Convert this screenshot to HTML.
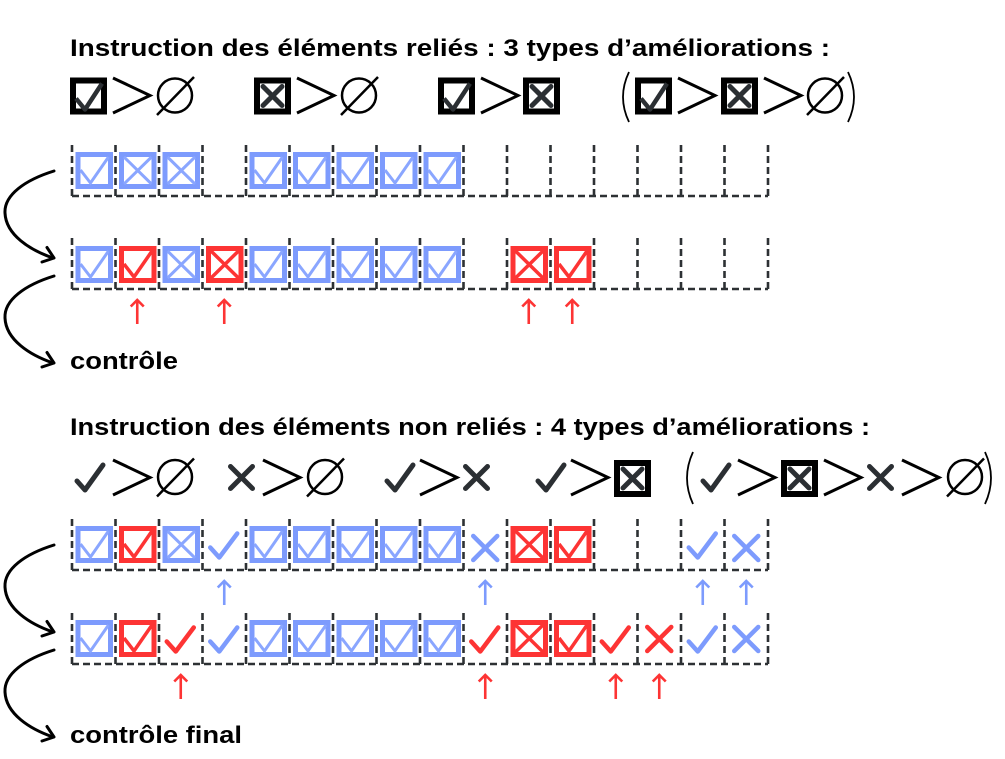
<!DOCTYPE html>
<html><head><meta charset="utf-8">
<style>
html,body{margin:0;padding:0;background:#fff;}
svg{display:block;}
text{font-family:"Liberation Sans",sans-serif;font-weight:bold;fill:#000;}
</style></head>
<body>
<svg width="1005" height="759" viewBox="0 0 1005 759" xmlns="http://www.w3.org/2000/svg">
<defs>
  <g id="bc"><rect x="2.5" y="2.5" width="32.5" height="32" fill="#fff" stroke="#7d9bfd" stroke-width="5"/><polyline points="5,18 15,31 33,5" fill="none" stroke="#8aa6ff" stroke-width="3"/></g>
  <g id="bx"><rect x="2.5" y="2.5" width="32.5" height="32" fill="#fff" stroke="#7d9bfd" stroke-width="5"/><path d="M5,5L32.5,32M32.5,5L5,32" fill="none" stroke="#8aa6ff" stroke-width="3"/></g>
  <g id="rc"><rect x="2.5" y="2.5" width="32.5" height="32" fill="#fff" stroke="#fd3434" stroke-width="5"/><polyline points="5,18 15,31 33,5" fill="none" stroke="#fd3434" stroke-width="3.5"/></g>
  <g id="rx"><rect x="2.5" y="2.5" width="32.5" height="32" fill="#fff" stroke="#fd3434" stroke-width="5"/><path d="M5,5L32.5,32M32.5,5L5,32" fill="none" stroke="#fd3434" stroke-width="3.5"/></g>
  <polyline id="pc" points="-14,2.5 -5,12.5 13,-11.5" fill="none" stroke-width="4.5" stroke-linecap="round" stroke-linejoin="round"/>
  <path id="px" d="M-12,-12L12,12M12,-12L-12,12" fill="none" stroke-width="4.5" stroke-linecap="round"/>
  <path id="ua" d="M0,0V24M-6.5,6.5L0,0L6.5,6.5" fill="none" stroke-width="2.6"/>
  <g id="grid" fill="none" stroke="#2d3134" stroke-width="2.6" stroke-dasharray="7 4">
    <path d="M72,0V51M115.5,0V51M159,0V51M202.5,0V51M246,0V51M289.5,0V51M333,0V51M376.5,0V51M420,0V51M463.5,0V51M507,0V51M550.5,0V51M594,0V51M637.5,0V51M681,0V51M724.5,0V51M768,0V51"/>
    <path d="M72,51H768"/>
  </g>
  <g id="carrow" fill="none" stroke="#000" stroke-width="3" stroke-linecap="round" stroke-linejoin="round">
    <path d="M54,171 C25,180 4,195 5,213 C6,235 30,250 53,258"/>
    <path d="M47,247.5 L54,258 L42,262"/>
  </g>
  <g id="kbc"><rect x="3" y="3" width="31" height="31" fill="#fff" stroke="#000" stroke-width="6"/><polyline points="6,21 15,32 32,6" fill="none" stroke="#2b2f33" stroke-width="4.5" stroke-linejoin="round"/></g>
  <g id="kbx"><rect x="3" y="3" width="31" height="31" fill="#fff" stroke="#000" stroke-width="6"/><path d="M9,9L28,28M28,9L9,28" fill="none" stroke="#2b2f33" stroke-width="5" stroke-linecap="round"/></g>
  <path id="gt" d="M0,0L37,17.5L0,35" fill="none" stroke="#000" stroke-width="3"/>
  <g id="empty" fill="none" stroke="#000" stroke-width="2.5"><circle cx="0" cy="0" r="17"/><path d="M-18,19.5L19,-18.5"/></g>
  <polyline id="dc" points="2,18 10,27 28,2" fill="none" stroke="#2b2f33" stroke-width="5" stroke-linecap="round" stroke-linejoin="round"/>
  <path id="dx" d="M-11,-11L11,11M11,-11L-11,11" fill="none" stroke="#2b2f33" stroke-width="5" stroke-linecap="round"/>
</defs>

<!-- Titles -->
<text x="70" y="56" font-size="24" textLength="760" lengthAdjust="spacingAndGlyphs">Instruction des éléments reliés : 3 types d’améliorations :</text>
<text x="70" y="435" font-size="24" textLength="800" lengthAdjust="spacingAndGlyphs">Instruction des éléments non reliés : 4 types d’améliorations :</text>
<text x="70" y="369" font-size="24" textLength="108" lengthAdjust="spacingAndGlyphs">contrôle</text>
<text x="70" y="743" font-size="24" textLength="172" lengthAdjust="spacingAndGlyphs">contrôle final</text>

<!-- Symbols line 1 -->
<use href="#kbc" x="70" y="77.5"/>
<use href="#gt" x="113" y="78"/>
<use href="#empty" x="175" y="95.5"/>
<use href="#kbx" x="254" y="77.5"/>
<use href="#gt" x="297" y="78"/>
<use href="#empty" x="359" y="95.5"/>
<use href="#kbc" x="438" y="77.5"/>
<use href="#gt" x="481" y="78"/>
<use href="#kbx" x="523" y="77.5"/>
<path d="M629,72 Q617,97 629,122" fill="none" stroke="#000" stroke-width="1.8"/>
<use href="#kbc" x="635" y="77.5"/>
<use href="#gt" x="678" y="78"/>
<use href="#kbx" x="721" y="77.5"/>
<use href="#gt" x="764" y="78"/>
<use href="#empty" x="825" y="95.5"/>
<path d="M848,72 Q860,97 848,122" fill="none" stroke="#000" stroke-width="1.8"/>

<!-- Symbols line 2 -->
<use href="#dc" x="75" y="463"/>
<use href="#gt" x="113" y="460"/>
<use href="#empty" x="175" y="477"/>
<use href="#dx" x="241.5" y="477.5"/>
<use href="#gt" x="263" y="460"/>
<use href="#empty" x="325" y="477"/>
<use href="#dc" x="385" y="463"/>
<use href="#gt" x="420" y="460"/>
<use href="#dx" x="476.5" y="477.5"/>
<use href="#dc" x="536" y="463"/>
<use href="#gt" x="571" y="460"/>
<use href="#kbx" x="614" y="460"/>
<path d="M693,452 Q681,478 693,504" fill="none" stroke="#000" stroke-width="1.8"/>
<use href="#dc" x="701" y="463"/>
<use href="#gt" x="738" y="460"/>
<use href="#kbx" x="781" y="460"/>
<use href="#gt" x="824" y="460"/>
<use href="#dx" x="880.5" y="477.5"/>
<use href="#gt" x="902" y="460"/>
<use href="#empty" x="965" y="477"/>
<path d="M985,452 Q997,478 985,504" fill="none" stroke="#000" stroke-width="1.8"/>

<!-- Grids -->
<use href="#grid" x="0" y="145"/>
<use href="#grid" x="0" y="238"/>
<use href="#grid" x="0" y="519"/>
<use href="#grid" x="0" y="613"/>

<!-- Row A -->
<use href="#bc" x="75.5" y="152"/>
<use href="#bx" x="119" y="152"/>
<use href="#bx" x="162.5" y="152"/>
<use href="#bc" x="249.5" y="152"/>
<use href="#bc" x="293" y="152"/>
<use href="#bc" x="336.5" y="152"/>
<use href="#bc" x="380" y="152"/>
<use href="#bc" x="423.5" y="152"/>

<!-- Row B -->
<use href="#bc" x="75.5" y="246"/>
<use href="#rc" x="119" y="246"/>
<use href="#bx" x="162.5" y="246"/>
<use href="#rx" x="206" y="246"/>
<use href="#bc" x="249.5" y="246"/>
<use href="#bc" x="293" y="246"/>
<use href="#bc" x="336.5" y="246"/>
<use href="#bc" x="380" y="246"/>
<use href="#bc" x="423.5" y="246"/>
<use href="#rx" x="510.5" y="246"/>
<use href="#rc" x="554" y="246"/>

<!-- Row B arrows -->
<use href="#ua" x="137.25" y="300" stroke="#fd3434"/>
<use href="#ua" x="224.25" y="300" stroke="#fd3434"/>
<use href="#ua" x="528.75" y="300" stroke="#fd3434"/>
<use href="#ua" x="572.25" y="300" stroke="#fd3434"/>

<!-- Row C -->
<use href="#bc" x="75.5" y="526"/>
<use href="#rc" x="119" y="526"/>
<use href="#bx" x="162.5" y="526"/>
<use href="#pc" x="224.25" y="545" stroke="#7d9bfd"/>
<use href="#bc" x="249.5" y="526"/>
<use href="#bc" x="293" y="526"/>
<use href="#bc" x="336.5" y="526"/>
<use href="#bc" x="380" y="526"/>
<use href="#bc" x="423.5" y="526"/>
<use href="#px" x="485.25" y="548" stroke="#7d9bfd"/>
<use href="#rx" x="510.5" y="526"/>
<use href="#rc" x="554" y="526"/>
<use href="#pc" x="702.75" y="545" stroke="#7d9bfd"/>
<use href="#px" x="746.25" y="548" stroke="#7d9bfd"/>

<!-- Row C arrows -->
<use href="#ua" x="224.25" y="581" stroke="#7d9bfd"/>
<use href="#ua" x="485.25" y="581" stroke="#7d9bfd"/>
<use href="#ua" x="702.75" y="581" stroke="#7d9bfd"/>
<use href="#ua" x="746.25" y="581" stroke="#7d9bfd"/>

<!-- Row D -->
<use href="#bc" x="75.5" y="620"/>
<use href="#rc" x="119" y="620"/>
<use href="#pc" x="180.75" y="639" stroke="#fd3434"/>
<use href="#pc" x="224.25" y="639" stroke="#7d9bfd"/>
<use href="#bc" x="249.5" y="620"/>
<use href="#bc" x="293" y="620"/>
<use href="#bc" x="336.5" y="620"/>
<use href="#bc" x="380" y="620"/>
<use href="#bc" x="423.5" y="620"/>
<use href="#pc" x="485.25" y="639" stroke="#fd3434"/>
<use href="#rx" x="510.5" y="620"/>
<use href="#rc" x="554" y="620"/>
<use href="#pc" x="615.75" y="639" stroke="#fd3434"/>
<use href="#px" x="659.25" y="639" stroke="#fd3434"/>
<use href="#pc" x="702.75" y="639" stroke="#7d9bfd"/>
<use href="#px" x="746.25" y="639" stroke="#7d9bfd"/>

<!-- Row D arrows -->
<use href="#ua" x="180.75" y="675" stroke="#fd3434"/>
<use href="#ua" x="485.25" y="675" stroke="#fd3434"/>
<use href="#ua" x="615.75" y="675" stroke="#fd3434"/>
<use href="#ua" x="659.25" y="675" stroke="#fd3434"/>

<!-- Curved arrows -->
<use href="#carrow" x="0" y="0"/>
<use href="#carrow" x="0" y="105"/>
<use href="#carrow" x="0" y="374"/>
<use href="#carrow" x="0" y="479"/>
</svg>
</body></html>
